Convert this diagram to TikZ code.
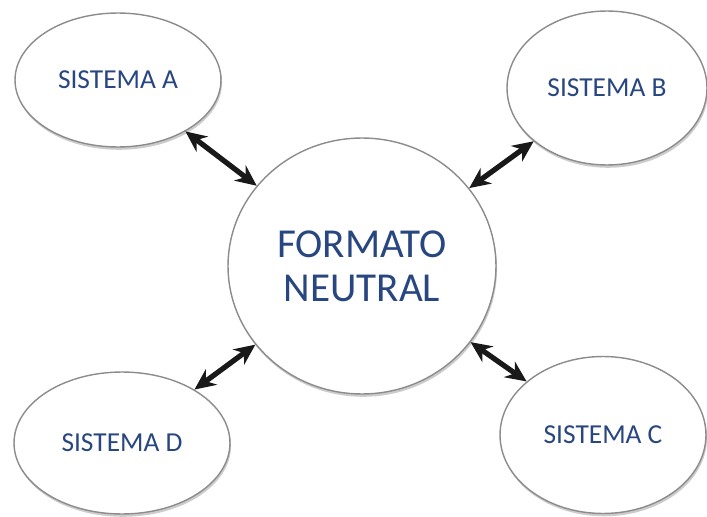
\documentclass[tikz,border=0pt]{standalone}
\usepackage{fontspec}
\setmainfont{Carlito}
\usetikzlibrary{shapes,arrows.meta,shadows}
\definecolor{textblue}{RGB}{40,70,128}

\begin{document}
\begin{tikzpicture}[x=0.02cm,y=-0.02cm,align=center]
    \tikzstyle{system} = [draw=gray!90,line width=0.8pt,ellipse,fill=white,inner sep=0pt,text=textblue,font=\fontsize{15.6}{18}\selectfont,drop shadow={shadow xshift=0.6pt,shadow yshift=-1.6pt,opacity=0.4}]
    \tikzstyle{neutral} = [system,font=\fontsize{23.4}{25}\selectfont]
    \tikzstyle{link} = [{Stealth[length=0.42cm,width=0.38cm]}-{Stealth[length=0.42cm,width=0.38cm]},line width=3pt,black!90]
    \useasboundingbox (0,0) rectangle (707,517);
      \node[neutral,minimum width=5.36cm,minimum height=5.12cm] (formato) at (362,266) {FORMATO\\NEUTRAL};
      \node[system,minimum width=4.12cm,minimum height=2.68cm] (sisA) at (118,80) {SISTEMA A};
      \node[system,minimum width=4.0cm,minimum height=3.08cm] (sisB) at (607,88) {SISTEMA B};
      \node[system,minimum width=4.12cm,minimum height=3.14cm] (sisC) at (603,435) {SISTEMA C};
      \node[system,minimum width=4.32cm,minimum height=2.84cm] (sisD) at (122,443) {SISTEMA D};
      \foreach \s in {sisA,sisB,sisC,sisD} \draw[link] (\s) -- (formato);
\end{tikzpicture}
\end{document}
